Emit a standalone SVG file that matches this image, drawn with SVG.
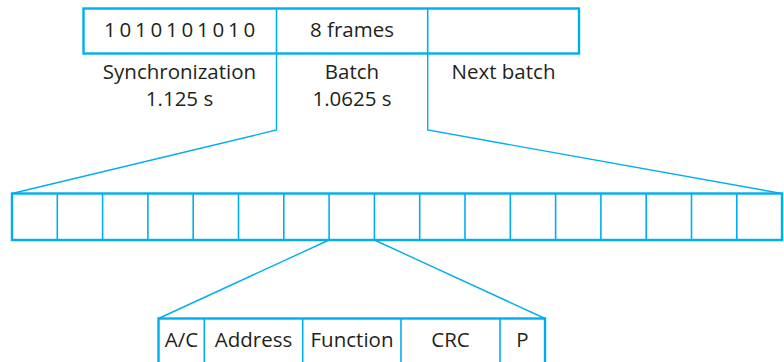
<svg xmlns="http://www.w3.org/2000/svg" width="784" height="362" viewBox="0 0 784 362">
<style>
.box{fill:none;stroke:#00aeef;stroke-width:2.4}
.div{stroke:#00aeef;stroke-width:1.6;fill:none}
.ln{stroke:#00aeef;stroke-width:1.4;fill:none}
text{font-family:"Open Sans","Noto Sans",sans-serif;font-size:20.5px;fill:#231f20;text-anchor:middle}
</style>
<rect width="784" height="362" fill="#fff"/>
<g id="batch-frame">
<rect class="box" x="83.5" y="8.5" width="495.5" height="45"/>
<line class="div" x1="276.5" y1="8.5" x2="276.5" y2="53.5"/>
<line class="div" x1="427.7" y1="8.5" x2="427.7" y2="53.5"/>
<text x="181.5" y="37" letter-spacing="3.8">1010101010</text>
<text x="352" y="37">8 frames</text>
<text x="179.5" y="78.5">Synchronization</text>
<text x="179.5" y="105.5">1.125 s</text>
<text x="352" y="78.5">Batch</text>
<text x="352" y="105.5">1.0625 s</text>
<text x="503.5" y="78.5">Next batch</text>
</g>
<g id="frames">
<rect class="box" x="12" y="193.5" width="770" height="46.5"/>
<g class="div">
<line x1="57.3" y1="193.5" x2="57.3" y2="240"/>
<line x1="102.6" y1="193.5" x2="102.6" y2="240"/>
<line x1="147.9" y1="193.5" x2="147.9" y2="240"/>
<line x1="193.2" y1="193.5" x2="193.2" y2="240"/>
<line x1="238.5" y1="193.5" x2="238.5" y2="240"/>
<line x1="283.8" y1="193.5" x2="283.8" y2="240"/>
<line x1="329.1" y1="193.5" x2="329.1" y2="240"/>
<line x1="374.4" y1="193.5" x2="374.4" y2="240"/>
<line x1="419.7" y1="193.5" x2="419.7" y2="240"/>
<line x1="465" y1="193.5" x2="465" y2="240"/>
<line x1="510.3" y1="193.5" x2="510.3" y2="240"/>
<line x1="555.6" y1="193.5" x2="555.6" y2="240"/>
<line x1="600.9" y1="193.5" x2="600.9" y2="240"/>
<line x1="646.2" y1="193.5" x2="646.2" y2="240"/>
<line x1="691.5" y1="193.5" x2="691.5" y2="240"/>
<line x1="736.8" y1="193.5" x2="736.8" y2="240"/>
</g>
</g>
<g id="codeword">
<rect class="box" x="158.5" y="318.5" width="386.5" height="60"/>
<line class="div" x1="204.3" y1="318.5" x2="204.3" y2="362"/>
<line class="div" x1="302.7" y1="318.5" x2="302.7" y2="362"/>
<line class="div" x1="401" y1="318.5" x2="401" y2="362"/>
<line class="div" x1="500" y1="318.5" x2="500" y2="362"/>
<text x="181.5" y="347">A/C</text>
<text x="253.5" y="347">Address</text>
<text x="352" y="347">Function</text>
<text x="450.5" y="347">CRC</text>
<text x="522.5" y="347">P</text>
</g>
<g id="connectors">
<polyline class="ln" points="276.5,53.5 276.5,130 12,193.5"/>
<polyline class="ln" points="427.7,53.5 427.7,130 782,193.5"/>
<line class="ln" x1="329.1" y1="240" x2="158.5" y2="318.5"/>
<line class="ln" x1="374.4" y1="240" x2="545" y2="318.5"/>
</g>
</svg>
